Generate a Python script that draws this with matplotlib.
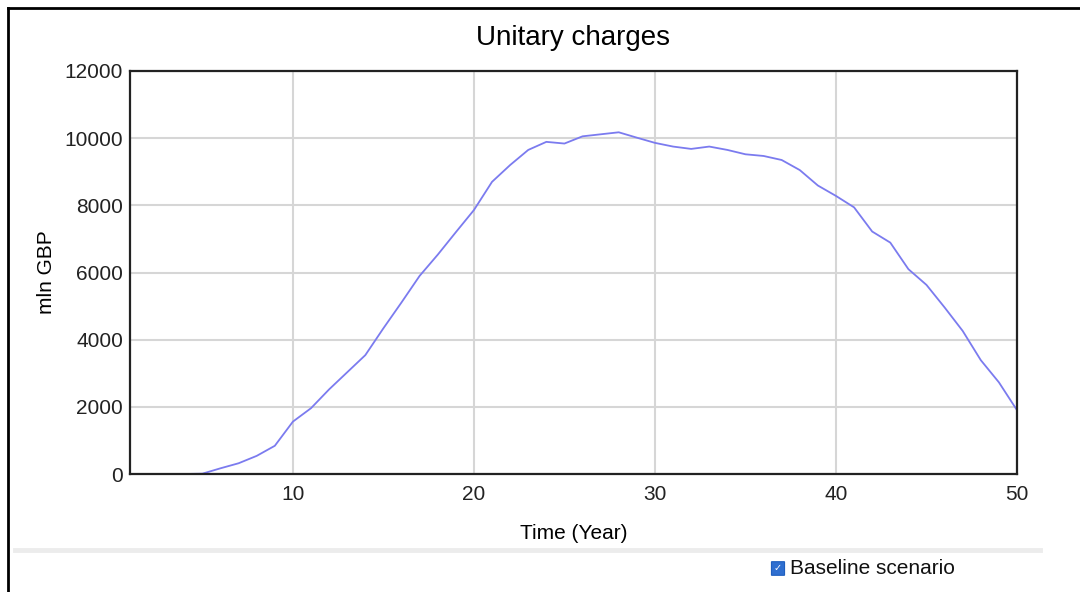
import numpy as np
import matplotlib.pyplot as plt
from matplotlib.patches import FancyBboxPatch
from matplotlib.lines import Line2D

plt.rcParams['font.family'] = ['Liberation Sans', 'DejaVu Sans']

years = np.arange(1, 51)
unitary_charges = [0, 0, 0, 0, 10, 170, 320, 540, 840, 1560,
                   1960, 2520, 3030, 3540, 4340, 5110, 5900, 6530, 7200, 7860,
                   8700, 9200, 9650, 9890, 9840, 10055, 10115, 10175, 10015, 9860,
                   9750, 9680, 9750, 9650, 9520, 9470, 9350, 9050, 8590, 8280,
                   7940, 7220, 6890, 6100, 5630, 4960, 4260, 3390, 2730, 1900]

title = "Unitary charges"
x_label = "Time (Year)"
y_label = "mln GBP"
series_name = "Baseline scenario"

fig = plt.figure(figsize=(10.8, 5.92), dpi=100)
ax = fig.add_axes([130 / 1080, 1 - 474 / 592, 887 / 1080, 403 / 592])

ax.plot(years, unitary_charges, color='#7B7BEF', lw=1.3)
ax.set_xlim(1, 50)
ax.set_ylim(0, 12000)
ax.set_xticks([10, 20, 30, 40, 50])
ax.set_yticks(np.arange(0, 12001, 2000))
ax.grid(True, color='#d6d6d6', lw=1.5)
ax.set_axisbelow(True)
ax.tick_params(length=0, labelsize=15, pad=8, colors='#222222')
ax.tick_params(axis='y', pad=5)
for s in ax.spines.values():
    s.set_linewidth(1.6)
    s.set_color('#222222')

ax.set_title(title, fontsize=20, pad=19)
ax.set_xlabel(x_label, fontsize=15, labelpad=14)
ax.set_ylabel(y_label, fontsize=15, labelpad=6)

# outer frame (top and left edges of the screenshot)
fig.add_artist(Line2D([8 / 1080, 8 / 1080], [0, 1 - 8 / 592], transform=fig.transFigure,
                      color='black', lw=2))
fig.add_artist(Line2D([8 / 1080, 1], [1 - 8 / 592, 1 - 8 / 592], transform=fig.transFigure,
                      color='black', lw=2))

# separator above legend
fig.add_artist(Line2D([15 / 1080, 1040 / 1080], [1 - 550 / 592, 1 - 550 / 592],
                      transform=fig.transFigure, color='#ececec', lw=3.5))

# checkbox legend
box = FancyBboxPatch((772 / 1080, 1 - 575 / 592), 12 / 1080, 13 / 592,
                     boxstyle='round,pad=0.0005', transform=fig.transFigure,
                     facecolor='#2f6fd0', edgecolor='#1f5fbf', lw=0.8)
fig.add_artist(box)
fig.text(778 / 1080, 1 - 568.5 / 592, '\u2713', color='white', fontsize=7,
         ha='center', va='center', family=['DejaVu Sans'])
fig.text(790 / 1080, 1 - 568 / 592, series_name, fontsize=15, va='center',
         color='#111111')

fig.savefig('out.png', dpi=100)
